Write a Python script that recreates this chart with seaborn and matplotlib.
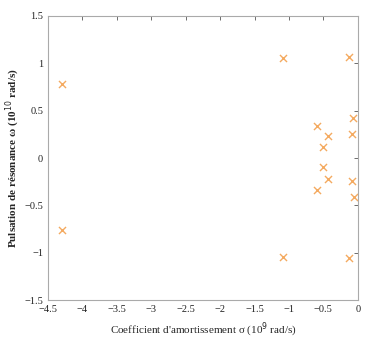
import numpy as np
import matplotlib.pyplot as plt
import seaborn as sns

# valeurs propres (sigma en 1e9 rad/s, omega en 1e10 rad/s)
sigma = [-4.30, -4.30, -1.08, -1.08, -0.13, -0.13, -0.07, -0.08, -0.59, -0.44,
         -0.51, -0.50, -0.43, -0.59, -0.09, -0.06]
omega = [0.78, -0.76, 1.06, -1.04, 1.07, -1.06, 0.42, 0.25, 0.34, 0.23,
         0.12, -0.10, -0.22, -0.34, -0.24, -0.41]

x_ticks = [-4.5, -4, -3.5, -3, -2.5, -2, -1.5, -1, -0.5, 0]
y_ticks = [-1.5, -1, -0.5, 0, 0.5, 1, 1.5]

sns.set_style("white")
plt.rcParams['font.family'] = ['Liberation Serif', 'DejaVu Serif']

fig = plt.figure(figsize=(3.67, 3.45), dpi=100)
ax = fig.add_axes([0.131, 0.130, 0.844, 0.824])

sns.scatterplot(x=sigma, y=omega, marker='x', color='#f4aa60', s=26,
                linewidth=1.0, ax=ax, legend=False)

ax.set_xlim(-4.5, 0)
ax.set_ylim(-1.5, 1.5)
ax.set_xticks(x_ticks)
ax.set_yticks(y_ticks)
ax.set_xticklabels(['\u22124.5', '\u22124', '\u22123.5', '\u22123', '\u22122.5',
                    '\u22122', '\u22121.5', '\u22121', '\u22120.5', '0'])
ax.set_yticklabels(['\u22121.5', '\u22121', '\u22120.5', '0', '0.5', '1', '1.5'])
ax.tick_params(direction='in', length=3, width=0.6, labelsize=7.5,
               top=True, right=True, colors='#555555', labelcolor='#222222')
for s in ax.spines.values():
    s.set_color('#aaaaaa')
    s.set_linewidth(0.8)

ax.set_xlabel("Coefficient d'amortissement \u03c3 (10$^9$ rad/s)", fontsize=8, labelpad=5)
ax.set_ylabel("Pulsation de r\u00e9sonance \u03c9 (10$^{10}$ rad/s)", fontsize=8,
              fontweight='bold', labelpad=2)

fig.savefig('out.png', dpi=100)
